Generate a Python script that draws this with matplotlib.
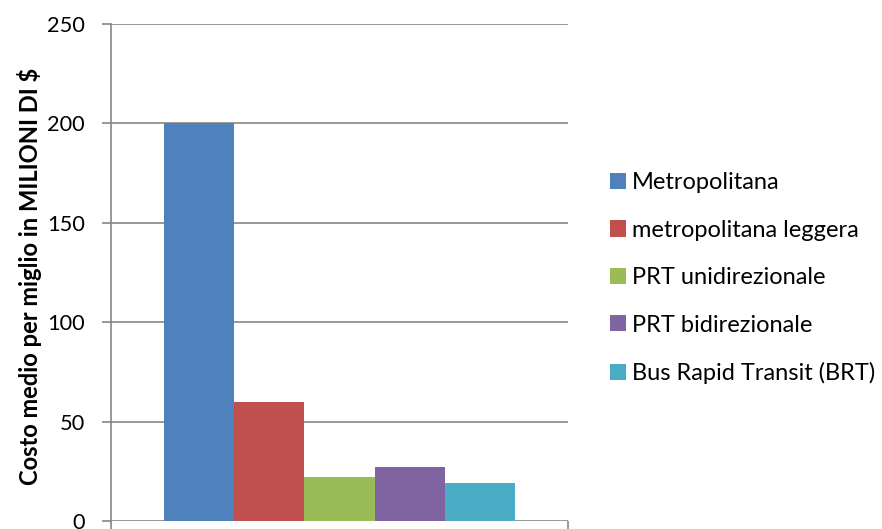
import matplotlib
matplotlib.use("Agg")
import matplotlib.pyplot as plt
from matplotlib.patches import Patch

plt.rcParams['font.family'] = ['Lato', 'DejaVu Sans']

series = ["Metropolitana", "metropolitana leggera", "PRT unidirezionale",
          "PRT bidirezionale", "Bus Rapid Transit (BRT)"]
values = [200, 60, 22, 27, 19]
colors = ["#4F81BD", "#C0504D", "#9BBB59", "#8064A2", "#4BACC6"]
yticks = [0, 50, 100, 150, 200, 250]

fig = plt.figure(figsize=(8.82, 5.29), dpi=100)
ax = fig.add_axes([0.1259, 0.0151, 0.5181, 0.9395])

n = len(values)
group = 0.77
w = group / n
start = -group / 2
for i, (v, c) in enumerate(zip(values, colors)):
    ax.bar(start + w * (i + 0.5), v, width=w, color=c, edgecolor="none", zorder=3)

ax.set_xlim(-0.5, 0.5)
ax.set_ylim(0, 250)
ax.set_yticks(yticks)
ax.set_xticks([-0.5, 0.5])
ax.set_xticklabels([])
ax.tick_params(axis='x', length=6, color="#868686", width=1.2, direction='out')
ax.tick_params(axis='y', length=6.5, color="#868686", width=1.2, direction='out',
               labelsize=15.7, pad=12.5)
ax.grid(axis='y', color="#868686", linewidth=1.2, zorder=0)
for s in ['top', 'right', 'bottom']:
    ax.spines[s].set_visible(False)
ax.spines['left'].set_color("#868686")
ax.spines['left'].set_linewidth(1.2)
ax.set_ylabel("Costo medio per miglio in MILIONI DI $", fontsize=17.1,
              fontweight='bold')
ax.yaxis.set_label_coords(-0.151, 0.492)

handles = [Patch(facecolor=c, edgecolor='none') for c in colors]
fig.legend(handles, series, loc='center left', bbox_to_anchor=(0.6916, 0.474),
           frameon=False, fontsize=17, handlelength=0.68, handleheight=0.68,
           handletextpad=0.25, labelspacing=1.12, borderaxespad=0, borderpad=0)

fig.savefig("out.png", dpi=100)
